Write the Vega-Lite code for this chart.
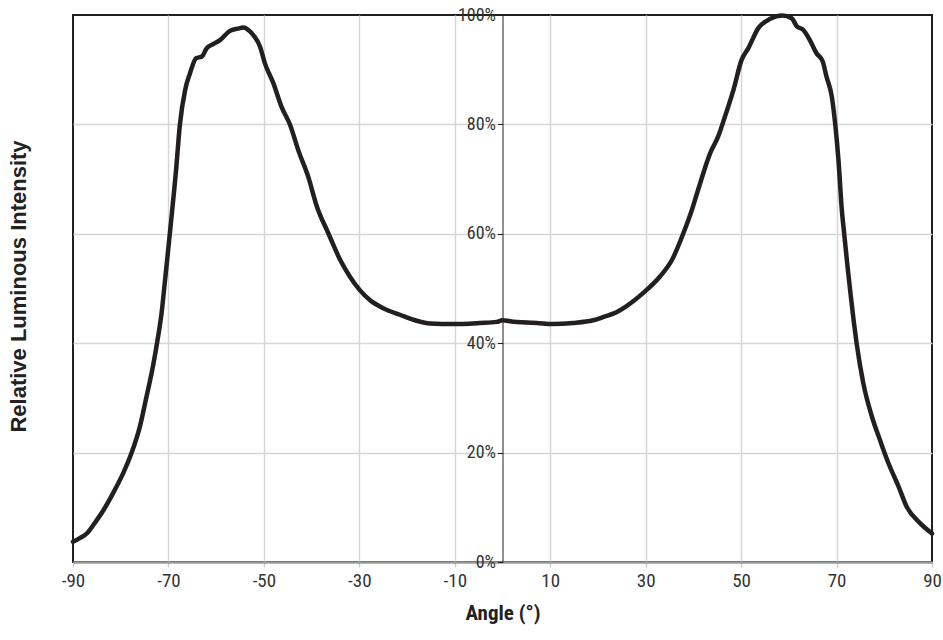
{
  "$schema": "https://vega.github.io/schema/vega-lite/v6.json",
  "width": 859,
  "height": 547,
  "autosize": "none",
  "padding": {"left": 73, "top": 15, "right": 11, "bottom": 78},
  "background": "white",
  "data": {"values": [
    {"a": -90, "v": 3.7}, {"a": -88.5, "v": 4.4}, {"a": -87, "v": 5.3}, {"a": -85.7, "v": 6.8},
    {"a": -83.6, "v": 9.5}, {"a": -81.6, "v": 12.6}, {"a": -79.5, "v": 16.2}, {"a": -77.7, "v": 20.0},
    {"a": -76.0, "v": 24.7}, {"a": -74.6, "v": 30.2}, {"a": -73.2, "v": 36.0}, {"a": -72.3, "v": 40.5},
    {"a": -71.4, "v": 45.8}, {"a": -70.8, "v": 50.8}, {"a": -69.7, "v": 60.1}, {"a": -68.4, "v": 71.7},
    {"a": -67.6, "v": 80.0}, {"a": -66.5, "v": 86.3}, {"a": -65.5, "v": 89.3}, {"a": -64.2, "v": 92.1},
    {"a": -63.0, "v": 92.4}, {"a": -62.0, "v": 93.9}, {"a": -60.6, "v": 94.7}, {"a": -59.2, "v": 95.4},
    {"a": -57.1, "v": 97.1}, {"a": -55.5, "v": 97.5}, {"a": -54.3, "v": 97.7}, {"a": -53.2, "v": 97.2},
    {"a": -52.2, "v": 96.3}, {"a": -50.8, "v": 94.2}, {"a": -49.8, "v": 91.2}, {"a": -48.0, "v": 87.5},
    {"a": -46.3, "v": 83.2}, {"a": -44.5, "v": 79.9}, {"a": -42.8, "v": 75.3}, {"a": -40.7, "v": 70.4},
    {"a": -38.9, "v": 65.0}, {"a": -36.5, "v": 60.1}, {"a": -34.0, "v": 55.2}, {"a": -32.0, "v": 52.2},
    {"a": -29.9, "v": 49.7}, {"a": -27.8, "v": 47.9}, {"a": -25.0, "v": 46.4}, {"a": -21.5, "v": 45.2},
    {"a": -18.0, "v": 44.1}, {"a": -15.2, "v": 43.6}, {"a": -10.3, "v": 43.5}, {"a": -4.7, "v": 43.7},
    {"a": -1.2, "v": 43.9}, {"a": 0, "v": 44.2}, {"a": 2.3, "v": 43.9}, {"a": 5.1, "v": 43.8},
    {"a": 7.2, "v": 43.7}, {"a": 10.6, "v": 43.5}, {"a": 14.8, "v": 43.7}, {"a": 19.0, "v": 44.2},
    {"a": 21.5, "v": 44.9}, {"a": 23.2, "v": 45.4}, {"a": 26.0, "v": 46.8}, {"a": 29.5, "v": 49.2},
    {"a": 33.0, "v": 52.2}, {"a": 35.5, "v": 55.2}, {"a": 37.9, "v": 60.1}, {"a": 39.7, "v": 64.4},
    {"a": 41.4, "v": 69.2}, {"a": 43.5, "v": 74.7}, {"a": 45.2, "v": 77.8}, {"a": 46.6, "v": 81.4},
    {"a": 48.4, "v": 86.3}, {"a": 50.1, "v": 91.8}, {"a": 51.5, "v": 93.9}, {"a": 53.6, "v": 97.6},
    {"a": 56.1, "v": 99.3}, {"a": 58.6, "v": 99.9}, {"a": 60.6, "v": 99.4}, {"a": 61.7, "v": 97.9},
    {"a": 63.0, "v": 97.3}, {"a": 64.4, "v": 95.4}, {"a": 65.8, "v": 93.0}, {"a": 67.1, "v": 91.5},
    {"a": 67.9, "v": 88.7}, {"a": 69.0, "v": 85.1}, {"a": 69.7, "v": 80.2}, {"a": 70.4, "v": 73.5},
    {"a": 71.1, "v": 64.4}, {"a": 71.6, "v": 60.0}, {"a": 72.3, "v": 54.0}, {"a": 73.0, "v": 48.5},
    {"a": 73.6, "v": 44.0}, {"a": 74.2, "v": 40.0}, {"a": 75.6, "v": 32.7}, {"a": 77.4, "v": 26.6},
    {"a": 79.1, "v": 22.3}, {"a": 80.9, "v": 18.0}, {"a": 83.0, "v": 13.8}, {"a": 84.7, "v": 10.1},
    {"a": 87.5, "v": 7.1}, {"a": 90, "v": 5.2}
  ]},
  "mark": {"type": "line", "color": "#231f20", "strokeWidth": 4.5, "strokeJoin": "round", "strokeCap": "round", "interpolate": "monotone", "clip": false},
  "encoding": {
    "x": {
      "field": "a", "type": "quantitative",
      "scale": {"domain": [-90, 90], "nice": false, "zero": false},
      "axis": {
        "values": [-90, -70, -50, -30, -10, 10, 30, 50, 70, 90],
        "labelExpr": "datum.value + ''",
        "title": "Angle (°)",
        "domainColor": "#9a9a9a", "domainWidth": 2.5,
        "tickColor": "#cccccc", "tickSize": 5, "tickWidth": 1.5,
        "gridColor": {"condition": {"test": "abs(datum.value) == 90", "value": "transparent"}, "value": "#d6d6d6"},
        "gridWidth": 1.5,
        "labelFont": "Roboto Condensed, DejaVu Sans Condensed, Roboto", "labelFontSize": 19, "labelColor": "#333333", "labelPadding": 4, "labelFlush": false,
        "titleFont": "Roboto Condensed, DejaVu Sans Condensed, Roboto", "titleFontSize": 21, "titleFontWeight": "bold", "titleColor": "#222222", "titlePadding": 12
      }
    },
    "y": {
      "field": "v", "type": "quantitative",
      "scale": {"domain": [0, 100], "nice": false},
      "axis": {
        "values": [0, 20, 40, 60, 80, 100],
        "labelExpr": "datum.value + '%'",
        "offset": -429.5,
        "domainColor": "#231f20", "domainWidth": 1,
        "tickColor": "#231f20", "tickSize": 5, "tickWidth": 1,
        "gridColor": {"condition": {"test": "datum.value == 0 || datum.value == 100", "value": "transparent"}, "value": "#d6d6d6"},
        "gridWidth": 1.5,
        "labelFont": "Roboto Condensed, DejaVu Sans Condensed, Roboto", "labelFontSize": 18, "labelColor": "#333333", "labelPadding": 2, "labelFlush": false, "labelBaseline": "middle",
        "title": "Relative Luminous Intensity",
        "titleFont": "Liberation Sans", "titleFontSize": 22, "titleFontWeight": "bold", "titleColor": "#222222",
        "titleAngle": -90, "titleAlign": "center", "titleBaseline": "middle",
        "titleX": -484, "titleY": 271
      }
    }
  },
  "config": {"view": {"stroke": "#231f20", "strokeWidth": 2}}
}
